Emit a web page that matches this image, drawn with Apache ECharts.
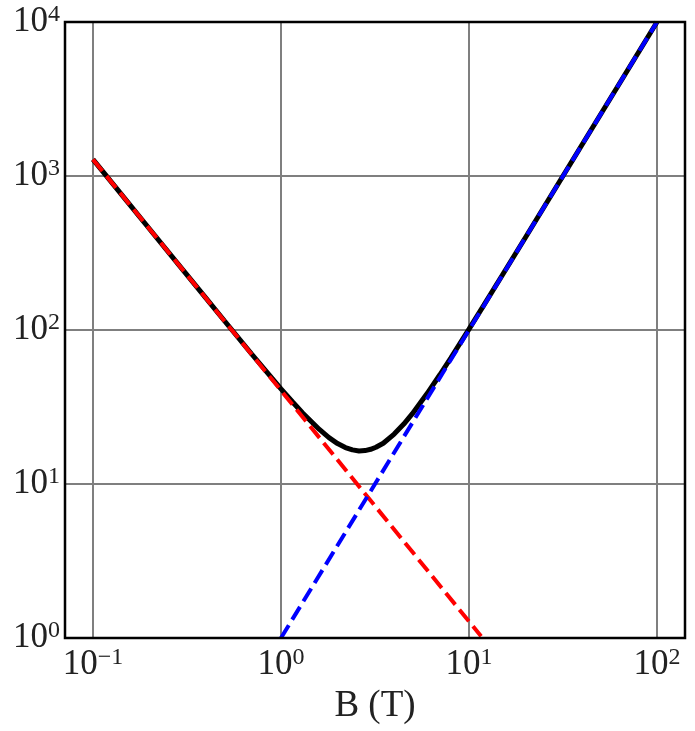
<!DOCTYPE html>
<html>
<head>
<meta charset="utf-8">
<script src="https://cdn.jsdelivr.net/npm/echarts@6/dist/echarts.min.js"></script>
<style>
html,body{margin:0;padding:0;background:#fff;}
#chart{width:695px;height:731px;}
</style>
</head>
<body>
<div id="chart"></div>
<script>
// Total (black solid) curve
const totalB = [0.1, 0.15, 0.2, 0.3, 0.4, 0.5, 0.7, 1, 1.15, 1.3, 1.6, 1.8, 2, 2.2, 2.4, 2.6, 2.8, 3, 3.2, 3.5, 4, 4.5, 5, 6, 7, 8, 10, 12, 15, 20, 30, 40, 50, 70, 100];
const totalV = [1281, 697, 452.8, 246.6, 160.3, 114.8, 69.6, 41.5, 34.2, 29.0, 22.6, 20.0, 18.3, 17.25, 16.65, 16.4, 16.48, 16.8, 17.32, 18.4, 21.1, 24.5, 28.6, 38.8, 51.2, 65.8, 101.3, 145, 225.7, 400.5, 900.2, 1600.2, 2500.1, 4900, 10000];
// Red dashed asymptote (low field)
const redB = [0.1, 1, 11.6];
const redV = [1281, 40.5, 1.025];
// Blue dashed asymptote (high field)
const blueB = [1, 10, 100];
const blueV = [1, 100, 10000];
// Axis ranges
const xRange = [0.0710, 140.9];
const yRange = [1, 10000];
const xName = 'B (T)';

const FONT = '"Liberation Serif", "Times New Roman", serif';
function pairs(xs, ys) { return xs.map((x, i) => [x, ys[i]]); }
const sup = { '-1': '\u22121', '0': '0', '1': '1', '2': '2', '3': '3', '4': '4' };
function fmt(v) {
  const e = Math.round(Math.log10(v));
  return '{b|10}{s|' + (sup[String(e)] || String(e)) + '}';
}
const rich = {
  b: { fontFamily: FONT, fontSize: 35, color: '#222222' },
  s: { fontFamily: FONT, fontSize: 24, color: '#222222', padding: [0, 0, 14, 0] }
};

const chart = echarts.init(document.getElementById('chart'), null, { renderer: 'canvas' });
chart.setOption({
  animation: false,
  backgroundColor: '#ffffff',
  grid: { left: 65, right: 10, top: 22, bottom: 93, show: true, borderColor: '#000', borderWidth: 2.5, backgroundColor: 'transparent', z: 10, containLabel: false, outerBoundsMode: 'none' },
  xAxis: {
    type: 'log', logBase: 10, min: xRange[0], max: xRange[1],
    name: xName, nameLocation: 'middle', nameGap: 50,
    nameTextStyle: { fontFamily: FONT, fontSize: 37, color: '#222222' },
    axisLine: { show: false }, axisTick: { show: false },
    axisLabel: { fontFamily: FONT, fontSize: 35, formatter: fmt, rich: rich, margin: 8, showMinLabel: false, showMaxLabel: false },
    splitLine: { show: true, lineStyle: { color: '#7f7f7f', width: 2 } },
    minorTick: { show: false }
  },
  yAxis: {
    type: 'log', logBase: 10, min: yRange[0], max: yRange[1],
    axisLine: { show: false }, axisTick: { show: false },
    axisLabel: { fontFamily: FONT, fontSize: 35, formatter: fmt, rich: rich, margin: 5 },
    splitLine: { show: true, lineStyle: { color: '#7f7f7f', width: 2 } }
  },
  series: [
    { type: 'line', data: pairs(totalB, totalV), showSymbol: false, symbol: 'none', smooth: false,
      lineStyle: { color: '#000', width: 5 }, z: 2 },
    { type: 'line', data: pairs(redB, redV), showSymbol: false, symbol: 'none',
      lineStyle: { color: '#ff0000', width: 4, type: [15, 6.5], cap: 'butt' }, z: 3 },
    { type: 'line', data: pairs(blueB, blueV), showSymbol: false, symbol: 'none',
      lineStyle: { color: '#0000ff', width: 4, type: [15, 6.5], cap: 'butt' }, z: 3 }
  ]
});
</script>
</body>
</html>
